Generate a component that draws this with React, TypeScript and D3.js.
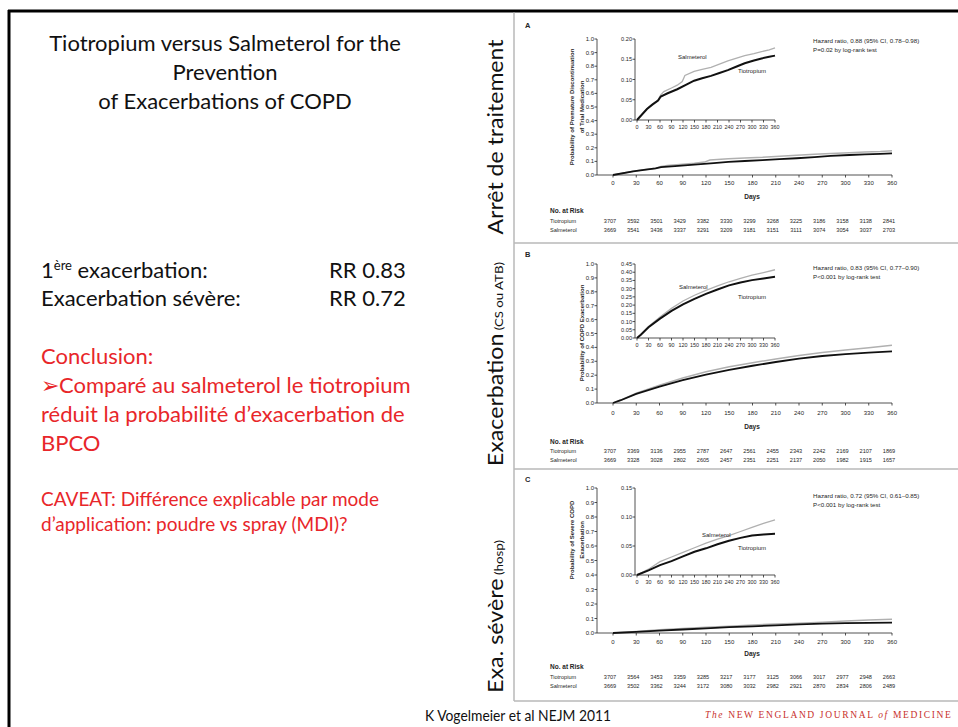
import React from "react";
import * as d3 from "d3";

// ---------- DATA ----------
const riskDays = [0, 30, 60, 90, 120, 150, 180, 210, 240, 270, 300, 330, 360];
const mainYTicks = [0, 0.1, 0.2, 0.3, 0.4, 0.5, 0.6, 0.7, 0.8, 0.9, 1.0];

const panelLetters = ["A", "B", "C"];
const yTitles = [
  ["Probability of Premature Discontinuation", "of Trial Medication"],
  ["Probability of COPD Exacerbation"],
  ["Probability of Severe COPD", "Exacerbation"],
];
const hazardLines = [
  ["Hazard ratio, 0.88 (95% CI, 0.78\u20130.98)", "P=0.02 by log-rank test"],
  ["Hazard ratio, 0.83 (95% CI, 0.77\u20130.90)", "P<0.001 by log-rank test"],
  ["Hazard ratio, 0.72 (95% CI, 0.61\u20130.85)", "P<0.001 by log-rank test"],
];
const insetMax = [0.2, 0.45, 0.15];
const insetTicks = [
  [0, 0.05, 0.1, 0.15, 0.2],
  [0, 0.05, 0.1, 0.15, 0.2, 0.25, 0.3, 0.35, 0.4, 0.45],
  [0, 0.05, 0.1, 0.15],
];

// Kaplan-Meier curves [day, cumulative probability]
const tioA: [number, number][] = [[0, 0], [26, 0.027], [40, 0.038], [55, 0.048], [62, 0.058], [80, 0.066], [105, 0.076], [130, 0.088], [149, 0.097], [170, 0.103], [193, 0.109], [215, 0.116], [237, 0.123], [260, 0.132], [281, 0.14], [305, 0.147], [325, 0.152], [345, 0.156], [360, 0.159]];
const salmA: [number, number][] = [[0, 0], [26, 0.028], [40, 0.039], [55, 0.05], [62, 0.062], [70, 0.07], [90, 0.079], [105, 0.086], [118, 0.095], [125, 0.11], [149, 0.12], [170, 0.125], [193, 0.13], [215, 0.138], [237, 0.146], [260, 0.153], [281, 0.159], [305, 0.164], [325, 0.169], [345, 0.173], [360, 0.178]];
const tioB: [number, number][] = [[0, 0], [10, 0.02], [30, 0.065], [60, 0.118], [90, 0.165], [120, 0.205], [150, 0.238], [180, 0.268], [210, 0.295], [240, 0.32], [270, 0.338], [300, 0.352], [330, 0.362], [360, 0.372]];
const salmB: [number, number][] = [[0, 0], [10, 0.02], [30, 0.07], [60, 0.128], [90, 0.18], [120, 0.225], [150, 0.26], [180, 0.29], [210, 0.317], [240, 0.342], [270, 0.363], [300, 0.382], [330, 0.398], [360, 0.415]];
const tioC: [number, number][] = [[0, 0], [30, 0.008], [60, 0.017], [90, 0.024], [120, 0.032], [150, 0.04], [180, 0.046], [210, 0.053], [240, 0.059], [270, 0.064], [300, 0.068], [330, 0.07], [360, 0.071]];
const salmC: [number, number][] = [[0, 0], [30, 0.01], [60, 0.023], [90, 0.031], [120, 0.039], [150, 0.047], [180, 0.055], [210, 0.062], [240, 0.068], [270, 0.075], [300, 0.082], [330, 0.089], [360, 0.095]];

const riskTioA = [3707, 3592, 3501, 3429, 3382, 3330, 3299, 3268, 3225, 3186, 3158, 3138, 2841];
const riskSalmA = [3669, 3541, 3436, 3337, 3291, 3209, 3181, 3151, 3111, 3074, 3054, 3037, 2703];
const riskTioB = [3707, 3369, 3136, 2955, 2787, 2647, 2561, 2455, 2343, 2242, 2169, 2107, 1869];
const riskSalmB = [3669, 3328, 3028, 2802, 2605, 2457, 2351, 2251, 2137, 2050, 1982, 1915, 1657];
const riskTioC = [3707, 3564, 3453, 3359, 3285, 3217, 3177, 3125, 3066, 3017, 2977, 2948, 2663];
const riskSalmC = [3669, 3502, 3362, 3244, 3172, 3080, 3032, 2982, 2921, 2870, 2834, 2806, 2489];

const tioCurves = [tioA, tioB, tioC];
const salmCurves = [salmA, salmB, salmC];
const riskTio = [riskTioA, riskTioB, riskTioC];
const riskSalm = [riskSalmA, riskSalmB, riskSalmC];

const titleLines = ["Tiotropium versus Salmeterol for the", "Prevention", "of Exacerbations of COPD"];

// ---------- LAYOUT ----------
const layouts = [
  { letterY: 28, mainTop: 39, mainBottom: 175, insetBottom: 120, xLab: 185, days: 199, risk: 213, rt: 223, rs: 232, hz: 43, salmL: [678, 59], tioL: [738, 73], yCY: 107 },
  { letterY: 257, mainTop: 264, mainBottom: 403, insetBottom: 338, xLab: 415, days: 429, risk: 444, rt: 453, rs: 462, hz: 270, salmL: [679, 289], tioL: [738, 299], yCY: 333 },
  { letterY: 482, mainTop: 488, mainBottom: 633, insetBottom: 575, xLab: 644, days: 656, risk: 669, rt: 679, rs: 688, hz: 498, salmL: [702, 537], tioL: [738, 550], yCY: 540 },
];

const FIG = "'Liberation Sans', Arial, sans-serif";
const SLIDE = "Lato, 'Open Sans', sans-serif";
const TXT = "#262626";
const RED = "#e8262a";

function Panel({ i }: { i: number }) {
  const L = layouts[i];
  const yAxisX = 597;
  const x = d3.scaleLinear().domain([0, 360]).range([613, 892]);
  const y = d3.scaleLinear().domain([0, 1]).range([L.mainBottom, L.mainTop]);
  const insetAxisX = 635;
  const xi = d3.scaleLinear().domain([0, 360]).range([637, 775]);
  const yi = d3.scaleLinear().domain([0, insetMax[i]]).range([L.insetBottom, L.mainTop]);
  const mainLine = d3.line<[number, number]>().x((d) => x(d[0])).y((d) => y(d[1]));
  const insetLine = d3.line<[number, number]>().x((d) => xi(d[0])).y((d) => yi(d[1]));
  const fmt1 = d3.format(".1f");
  const fmt2 = d3.format(".2f");
  const titles = yTitles[i];
  const tx = titles.length === 2 ? [574, 584] : [584];
  return (
    <g fontFamily={FIG} fill={TXT}>
      <text x={525} y={L.letterY} fontSize={7.5} fontWeight="bold">{panelLetters[i]}</text>
      {/* main axes */}
      <line x1={yAxisX} x2={yAxisX} y1={y(0)} y2={y(1)} stroke={TXT} strokeWidth={0.8} />
      <line x1={yAxisX} x2={892} y1={y(0)} y2={y(0)} stroke={TXT} strokeWidth={0.8} />
      {mainYTicks.map((t) => (
        <g key={"my" + t}>
          <line x1={yAxisX - 2.5} x2={yAxisX} y1={y(t)} y2={y(t)} stroke={TXT} strokeWidth={0.8} />
          <text x={yAxisX - 3} y={y(t) + 2} fontSize={6} textAnchor="end">{fmt1(t)}</text>
        </g>
      ))}
      {riskDays.map((d) => (
        <g key={"mx" + d}>
          <line x1={x(d)} x2={x(d)} y1={y(0)} y2={y(0) + 2.5} stroke={TXT} strokeWidth={0.8} />
          <text x={x(d)} y={L.xLab} fontSize={6} textAnchor="middle">{d}</text>
        </g>
      ))}
      <text x={752} y={L.days} fontSize={6.5} fontWeight="bold" textAnchor="middle">Days</text>
      {titles.map((t, k) => (
        <text key={"yt" + k} x={tx[k]} y={L.yCY} fontSize={6} fontWeight="bold" textAnchor="middle"
          transform={`rotate(-90, ${tx[k]}, ${L.yCY})`}>{t}</text>
      ))}
      <path d={mainLine(salmCurves[i]) || ""} fill="none" stroke="#b0b0b0" strokeWidth={1.5} />
      <path d={mainLine(tioCurves[i]) || ""} fill="none" stroke="#111" strokeWidth={1.8} />
      {/* inset */}
      <rect x={insetAxisX + 0.5} y={L.mainTop - 2} width={150} height={L.insetBottom - L.mainTop + 2} fill="white" />
      <line x1={insetAxisX} x2={insetAxisX} y1={yi(0)} y2={yi(insetMax[i])} stroke={TXT} strokeWidth={0.8} />
      <line x1={insetAxisX} x2={775} y1={yi(0)} y2={yi(0)} stroke={TXT} strokeWidth={0.8} />
      {insetTicks[i].map((t) => (
        <g key={"iy" + t}>
          <line x1={insetAxisX - 2.5} x2={insetAxisX} y1={yi(t)} y2={yi(t)} stroke={TXT} strokeWidth={0.8} />
          <text x={insetAxisX - 3} y={yi(t) + 2} fontSize={5.6} textAnchor="end">{fmt2(t)}</text>
        </g>
      ))}
      {riskDays.map((d) => (
        <g key={"ix" + d}>
          <line x1={xi(d)} x2={xi(d)} y1={yi(0)} y2={yi(0) + 2.5} stroke={TXT} strokeWidth={0.8} />
          <text x={xi(d)} y={yi(0) + 9} fontSize={5.4} textAnchor="middle">{d}</text>
        </g>
      ))}
      <path d={insetLine(salmCurves[i]) || ""} fill="none" stroke="#b0b0b0" strokeWidth={1.3} />
      <path d={insetLine(tioCurves[i]) || ""} fill="none" stroke="#111" strokeWidth={2} />
      <text x={L.salmL[0]} y={L.salmL[1]} fontSize={6}>Salmeterol</text>
      <text x={L.tioL[0]} y={L.tioL[1]} fontSize={6}>Tiotropium</text>
      {/* hazard */}
      <text x={813} y={L.hz} fontSize={6.2}>{hazardLines[i][0]}</text>
      <text x={813} y={L.hz + 9} fontSize={6.2}>{hazardLines[i][1]}</text>
      {/* number at risk */}
      <text x={550} y={L.risk} fontSize={6.5} fontWeight="bold">No. at Risk</text>
      <text x={550} y={L.rt} fontSize={5.6}>Tiotropium</text>
      <text x={550} y={L.rs} fontSize={5.6}>Salmeterol</text>
      {riskDays.map((d, k) => (
        <g key={"r" + d}>
          <text x={x(d) - 3} y={L.rt} fontSize={5.6} textAnchor="middle">{riskTio[i][k]}</text>
          <text x={x(d) - 3} y={L.rs} fontSize={5.6} textAnchor="middle">{riskSalm[i][k]}</text>
        </g>
      ))}
    </g>
  );
}

export default function App() {
  return (
    <svg width={958} height={727} style={{ position: "absolute", left: 0, top: 0, background: "white" }}>
      <rect x={0} y={0} width={958} height={727} fill="white" />
      {/* slide frame */}
      <line x1={8} x2={958} y1={11} y2={11} stroke="#000" strokeWidth={3} />
      <line x1={9} x2={9} y1={10} y2={727} stroke="#000" strokeWidth={3} />
      {/* figure box */}
      <g stroke="#b8b8b8" strokeWidth={1.5}>
        <line x1={514} x2={514} y1={12.5} y2={701} />
        <line x1={514} x2={958} y1={243} y2={243} />
        <line x1={514} x2={958} y1={469} y2={469} />
        <line x1={514} x2={958} y1={701} y2={701} />
      </g>
      {[0, 1, 2].map((i) => <Panel key={i} i={i} />)}
      {/* slide text */}
      <g fontFamily={SLIDE} fill="#111">
        {titleLines.map((t, k) => (
          <text key={t} x={225} y={51 + k * 29} fontSize={22} textAnchor="middle">{t}</text>
        ))}
        <text x={41} y={278} fontSize={22}>1<tspan fontSize={13} dy={-8}>ère</tspan><tspan dy={8}> exacerbation:</tspan></text>
        <text x={329} y={278} fontSize={22}>RR 0.83</text>
        <text x={41} y={306} fontSize={22}>Exacerbation sévère:</text>
        <text x={329} y={306} fontSize={22}>RR 0.72</text>
      </g>
      <g fontFamily={SLIDE} fill={RED}>
        <text x={41} y={364} fontSize={22}>Conclusion:</text>
        <text x={41} y={393} fontSize={22}>{"\u27A2Comparé au salmeterol le tiotropium"}</text>
        <text x={41} y={422} fontSize={22}>{"réduit la probabilité d\u2019exacerbation de"}</text>
        <text x={41} y={451} fontSize={22}>BPCO</text>
        <text x={41} y={506} fontSize={19}>CAVEAT: Différence explicable par mode</text>
        <text x={41} y={531} fontSize={19}>{"d\u2019application: poudre vs spray (MDI)?"}</text>
      </g>
      {/* rotated side labels */}
      <g fontFamily={SLIDE} fill="#111">
        <text x={503} y={137} fontSize={21} textAnchor="middle" textLength={195} lengthAdjust="spacingAndGlyphs"
          transform="rotate(-90, 503, 137)">Arrêt de traitement</text>
        <text x={503} y={466} fontSize={21} textLength={204} lengthAdjust="spacingAndGlyphs"
          transform="rotate(-90, 503, 466)">Exacerbation<tspan fontSize={12}> (CS ou ATB)</tspan></text>
        <text x={503} y={693} fontSize={21} textLength={153} lengthAdjust="spacingAndGlyphs"
          transform="rotate(-90, 503, 693)">Exa. sévère<tspan fontSize={12}> (hosp)</tspan></text>
      </g>
      <text x={425} y={721} fontFamily={SLIDE} fontSize={16} fill="#111" textLength={186} lengthAdjust="spacingAndGlyphs">K Vogelmeier et al NEJM 2011</text>
      <text x={705} y={718} fontFamily="'Liberation Serif', serif" fontSize={9.5} fill="#c8302c" letterSpacing={2.2}
        textLength={248} lengthAdjust="spacing">
        <tspan fontStyle="italic">The</tspan> NEW ENGLAND JOURNAL <tspan fontStyle="italic">of</tspan> MEDICINE
      </text>
    </svg>
  );
}
